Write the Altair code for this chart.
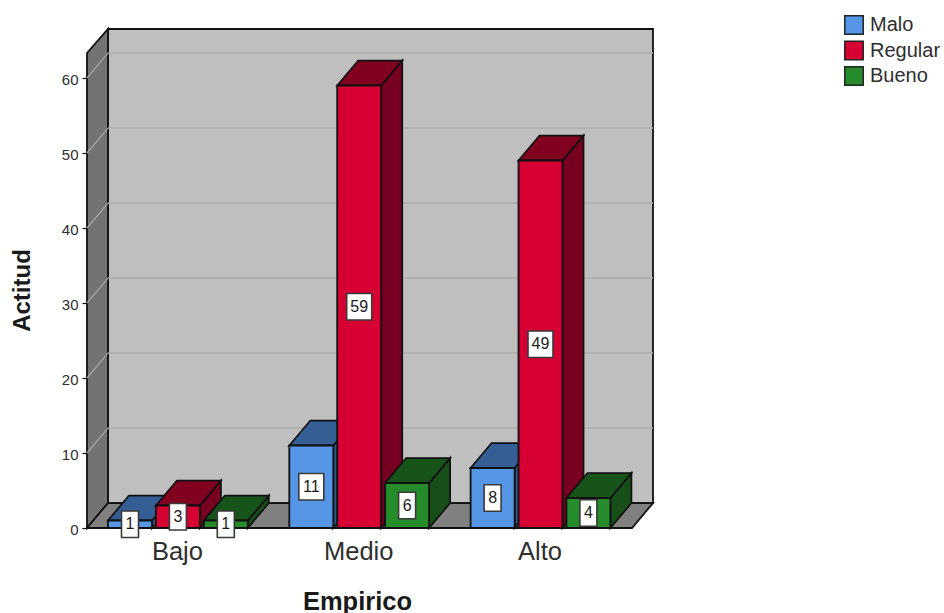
import altair as alt
import pandas as pd

# Cross-tabulated counts: one row per Empirico level, one column per Actitud level
categories = ["Bajo", "Medio", "Alto"]
series = ["Malo", "Regular", "Bueno"]
malo = [1, 11, 8]
regular = [3, 59, 49]
bueno = [1, 6, 4]
counts = [malo, regular, bueno]
y_ticks = [0, 10, 20, 30, 40, 50, 60]

front_colors = ["#5596E6", "#D60032", "#258B2B"]
top_colors = ["#355F94", "#82001F", "#17541A"]
side_colors = ["#2F5687", "#780020", "#174F19"]

FONT = "Liberation Sans"
INK = "#1A1A1A"
SOFT_INK = "#2E2E2E"

# Layout of the pseudo-3D box, in x-scale units and y-scale (count) units
BOX_LEFT, BOX_RIGHT = 87, 653
DEPTH_X, DEPTH_Y = 21, 3.33
FRONT_TOP = 63.33
BAR_START, GROUP_STEP, BAR_STEP, BAR_W = 108, 181.3, 47.9, 44
X_MAX, Y_MAX = 566, 499 / 7.5

x_scale = alt.Scale(domain=[BOX_LEFT, BOX_RIGHT], nice=False, zero=False)
y_scale = alt.Scale(domain=[0, Y_MAX], nice=False, zero=False)

x_axis = alt.Axis(
    values=[BAR_START + i * GROUP_STEP + BAR_STEP + BAR_W / 2 - 1 for i in range(3)],
    labelExpr="datum.index < 0.25 ? 'Bajo' : datum.index < 0.75 ? 'Medio' : 'Alto'",
    domain=False, ticks=False, grid=False,
    labelFont=FONT, labelFontSize=25.5, labelColor=SOFT_INK, labelPadding=11,
    labelFlush=False, labelOverlap=False,
    title="Empirico", titleFont=FONT, titleFontSize=25.5, titleFontWeight="bold", titleColor=INK,
    titleX=270, titleY=73, titleAnchor="middle", titleAlign="center", titleBaseline="middle",
)
y_axis = alt.Axis(
    values=y_ticks, domain=False, grid=False, tickSize=5, tickColor="#111111", tickWidth=1.2,
    labelFont=FONT, labelFontSize=15, labelColor=SOFT_INK, labelPadding=4, labelOffset=1,
    title="Actitud", titleFont=FONT, titleFontSize=24, titleFontWeight="bold", titleColor=INK,
    titleX=-65, titleY=261, titleAnchor="middle", titleAlign="center", titleBaseline="middle",
)
X = lambda f: alt.X(f, type="quantitative", scale=x_scale, axis=x_axis)
Y = lambda f: alt.Y(f, type="quantitative", scale=y_scale, axis=y_axis)


def poly(rows, pid, fill):
    return [dict(x=x, lo=lo, hi=hi, pid=pid, fill=fill) for x, lo, hi in rows]


# Walls and floor of the box
floor_right = BOX_RIGHT - DEPTH_X
box_rows = []
box_rows += poly([(BOX_LEFT + DEPTH_X, DEPTH_Y, Y_MAX), (BOX_RIGHT, DEPTH_Y, Y_MAX)], "back", "#BFBFBF")
box_rows += poly([(BOX_LEFT, 0, FRONT_TOP), (BOX_LEFT + DEPTH_X, DEPTH_Y, Y_MAX)], "left", "#737373")
box_rows += poly(
    [(BOX_LEFT, 0, 0), (BOX_LEFT + DEPTH_X, 0, DEPTH_Y), (floor_right, 0, DEPTH_Y), (BOX_RIGHT, DEPTH_Y, DEPTH_Y)],
    "floor", "#808080",
)
walls = alt.Chart(pd.DataFrame(box_rows)).mark_area(stroke="#111111", strokeWidth=1.8).encode(
    x=X("x"), y=Y("lo"), y2="hi:Q", fill=alt.Fill("fill:N", scale=None), detail="pid:N"
)

# Gridlines on the back wall and their continuation across the left wall
grid_rows = []
for v in y_ticks[1:]:
    grid_rows.append(dict(x=BOX_LEFT + DEPTH_X, y=v + DEPTH_Y, tick=f"back{v}"))
    grid_rows.append(dict(x=BOX_RIGHT, y=v + DEPTH_Y, tick=f"back{v}"))
grid_back = alt.Chart(pd.DataFrame(grid_rows)).mark_line(color="#ADADAD", strokeWidth=1.6).encode(
    x=X("x"), y=Y("y"), detail="tick:N"
)
wall_rows = []
for v in y_ticks[1:]:
    wall_rows.append(dict(x=BOX_LEFT, y=v, tick=f"left{v}"))
    wall_rows.append(dict(x=BOX_LEFT + DEPTH_X, y=v + DEPTH_Y, tick=f"left{v}"))
grid_left = alt.Chart(pd.DataFrame(wall_rows)).mark_line(color="#A6A6A6", strokeWidth=1.2).encode(
    x=X("x"), y=Y("y"), detail="tick:N"
)

# Bars: one front face, one side face and one top face per count
front_rows, face_rows, box_label_rows = [], [], []
for i, cat in enumerate(categories):
    for j, name in enumerate(series):
        v = counts[j][i]
        x0 = BAR_START + i * GROUP_STEP + j * BAR_STEP
        x1 = x0 + BAR_W
        front_rows.append(dict(x0=x0, x1=x1, v=v, base=0, serie=name))
        pid = f"{i}-{j}"
        face_rows += poly([(x1, 0, v), (x1 + DEPTH_X, DEPTH_Y, v + DEPTH_Y)], pid + "s", side_colors[j])
        face_rows += poly(
            [(x0, v, v), (x0 + DEPTH_X, v, v + DEPTH_Y), (x1, v, v + DEPTH_Y), (x1 + DEPTH_X, v + DEPTH_Y, v + DEPTH_Y)],
            pid + "t", top_colors[j],
        )
        half = 12.5 if v >= 10 else 8.5
        mid = (x0 + x1) / 2
        box_label_rows.append(dict(x=mid, xa=mid - half, xb=mid + half, ya=v / 2 - 13.2 / 7.5,
                                   yb=v / 2 + 13.2 / 7.5, ym=v / 2, txt=str(v)))

faces = alt.Chart(pd.DataFrame(face_rows)).mark_area(stroke="#111111", strokeWidth=1.8).encode(
    x=X("x"), y=Y("lo"), y2="hi:Q", fill=alt.Fill("fill:N", scale=None), detail="pid:N"
)
fronts = alt.Chart(pd.DataFrame(front_rows)).mark_rect(stroke="#111111", strokeWidth=1.8).encode(
    x=X("x0"), x2="x1:Q", y=Y("base"), y2="v:Q",
    color=alt.Color(
        "serie:N",
        scale=alt.Scale(domain=series, range=front_colors),
        legend=alt.Legend(
            title=None, orient="none", legendX=757, legendY=-14, symbolType="square", symbolSize=340,
            symbolStrokeColor="#222222", symbolStrokeWidth=1.5, symbolOpacity=1,
            labelFont=FONT, labelFontSize=20, labelColor=SOFT_INK, labelOffset=6, rowPadding=-0.5, padding=0,
            labelLimit=0,
        ),
    ),
)

labels = pd.DataFrame(box_label_rows)
label_boxes = alt.Chart(labels).mark_rect(fill="white", stroke="#3A3A3A", strokeWidth=1.6).encode(
    x=X("xa"), x2="xb:Q", y=Y("ya"), y2="yb:Q"
)
label_text = alt.Chart(labels).mark_text(font=FONT, fontSize=16, color=INK, baseline="middle", align="center").encode(
    x=X("x"), y=Y("ym"), text="txt:N"
)

# Floor edge along the bars' base line
edge_rows = [dict(x=BOX_LEFT, y=0), dict(x=floor_right, y=0)]
front_edge = alt.Chart(pd.DataFrame(edge_rows)).mark_line(color="#111111", strokeWidth=1.8).encode(x=X("x"), y=Y("y"))

chart = (
    alt.layer(walls, grid_back, grid_left, front_edge, faces, fronts, label_boxes, label_text)
    .properties(
        width=X_MAX, height=499, background="white",
        padding={"left": 87, "top": 29, "right": 291, "bottom": 85},
        autosize=alt.AutoSizeParams(type="none"),
    )
    .configure_view(stroke=None)
)

chart.save("out.html", embed_options={"renderer": "svg", "actions": False})
